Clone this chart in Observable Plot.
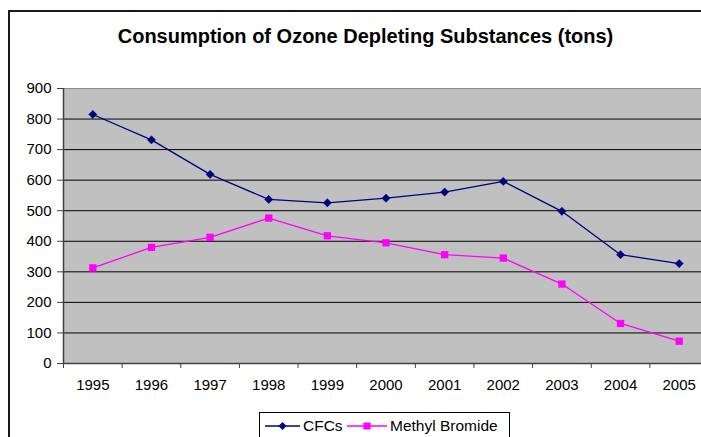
<!DOCTYPE html>
<html>
<head>
<meta charset="utf-8">
<script src="https://cdn.jsdelivr.net/npm/d3@7"></script>
<script src="https://cdn.jsdelivr.net/npm/@observablehq/plot@0.6"></script>
<style>
  html, body { margin: 0; padding: 0; background: #fff; overflow: hidden; }
  #wrap { position: relative; width: 701px; height: 437px; overflow: hidden; font-family: "Liberation Sans", Arial, sans-serif; }
  #outer { position: absolute; left: 8px; top: 10px; width: 760px; height: 520px; border: 2px solid #1a1a1a; box-sizing: border-box; z-index: 5; pointer-events: none; }
  #title { position: absolute; left: 0; top: 26px; width: 731px; text-align: center; font-weight: bold; font-size: 20px; line-height: 20px; color: #000; }
  #chart { position: absolute; left: 0; top: 0; }
  #legend { position: absolute; left: 259px; top: 412px; width: 251px; height: 40px; border: 1px solid #000; box-sizing: border-box; background: #fff; }
  .lg { position: absolute; font-size: 15.5px; line-height: 16px; color: #000; white-space: nowrap; }
  .sw { position: absolute; }
</style>
</head>
<body>
<div id="wrap">
  <div id="title">Consumption of Ozone Depleting Substances (tons)</div>
  <div id="chart"></div>
  <div id="legend"></div>
  <div id="outer"></div>
</div>
<script>
const years = ["1995","1996","1997","1998","1999","2000","2001","2002","2003","2004","2005"];
const cfcs = [815, 732, 619, 537, 526, 541, 561, 596, 498, 356, 327];
const methylBromide = [313, 380, 413, 476, 418, 395, 356, 345, 260, 131, 73];
const yTicks = [0, 100, 200, 300, 400, 500, 600, 700, 800, 900];
const seriesNames = ["CFCs", "Methyl Bromide"];
const seriesColors = ["#000080", "#FF00FF"];

const idx = years.map((_, i) => i);
const bounds = d3.range(years.length + 1).map(i => i - 0.5);
const cfcData = years.map((y, i) => ({i, v: cfcs[i]}));
const mbData = years.map((y, i) => ({i, v: methylBromide[i]}));

const chart = Plot.plot({
  width: 701,
  height: 437,
  marginLeft: 63,
  marginRight: -7,
  marginTop: 88,
  marginBottom: 74,
  style: { fontFamily: "'Liberation Sans', Arial, sans-serif", fontSize: "15px", color: "#000", background: "transparent" },
  x: { domain: [-0.5, years.length - 0.5], label: null },
  y: { domain: [0, 900], label: null },
  marks: [
    Plot.frame({ fill: "#C0C0C0", stroke: null }),
    Plot.gridY(yTicks.filter(t => t > 0 && t < 900), { stroke: "#000", strokeOpacity: 1, strokeWidth: 1 }),
    Plot.ruleY([900], { stroke: "#8a8a8a", strokeWidth: 1.2 }),
    Plot.ruleY([0], { stroke: "#404040", strokeWidth: 1.5 }),
    Plot.ruleX([-0.5], { stroke: "#404040", strokeWidth: 1.5 }),
    Plot.axisY(yTicks, { tickSize: 6, tickPadding: 6, fontSize: 15, stroke: "#404040", label: null }),
    Plot.axisX(idx, { tickSize: 0, tickPadding: 16, tickFormat: i => years[i], fontSize: 15, label: null }),
    Plot.axisX(bounds, { tickSize: 5, tickFormat: () => "", stroke: "#404040", label: null }),
    Plot.line(cfcData, { x: "i", y: "v", stroke: seriesColors[0], strokeWidth: 1.3 }),
    Plot.line(mbData, { x: "i", y: "v", stroke: seriesColors[1], strokeWidth: 1.3 }),
    Plot.dot(cfcData, { x: "i", y: "v", symbol: "diamond2", r: 3.7, fill: seriesColors[0], stroke: seriesColors[0], strokeWidth: 0.5 }),
    Plot.dot(mbData, { x: "i", y: "v", symbol: "square", r: 4.1, fill: seriesColors[1], stroke: null })
  ]
});
document.getElementById("chart").appendChild(chart);

// Legend
const legend = document.getElementById("legend");
function swatch(left, width, color, shape) {
  const ns = "http://www.w3.org/2000/svg";
  const svg = document.createElementNS(ns, "svg");
  svg.setAttribute("width", width);
  svg.setAttribute("height", 12);
  svg.setAttribute("class", "sw");
  svg.style.left = left + "px";
  svg.style.top = "7px";
  const line = document.createElementNS(ns, "line");
  line.setAttribute("x1", 0); line.setAttribute("x2", width);
  line.setAttribute("y1", 6); line.setAttribute("y2", 6);
  line.setAttribute("stroke", color); line.setAttribute("stroke-width", 1.3);
  svg.appendChild(line);
  const m = document.createElementNS(ns, "path");
  const c = width / 2;
  if (shape === "diamond") m.setAttribute("d", `M${c},2L${c+4},6L${c},10L${c-4},6Z`);
  else m.setAttribute("d", `M${c-3.6},2.4h7.2v7.2h-7.2Z`);
  m.setAttribute("fill", color);
  svg.appendChild(m);
  legend.appendChild(svg);
}
function label(left, text) {
  const d = document.createElement("div");
  d.className = "lg";
  d.style.left = left + "px";
  d.style.top = "5px";
  d.textContent = text;
  legend.appendChild(d);
}
swatch(5, 35, seriesColors[0], "diamond");
label(43, seriesNames[0]);
swatch(87, 40, seriesColors[1], "square");
label(130, seriesNames[1]);
</script>
</body>
</html>
